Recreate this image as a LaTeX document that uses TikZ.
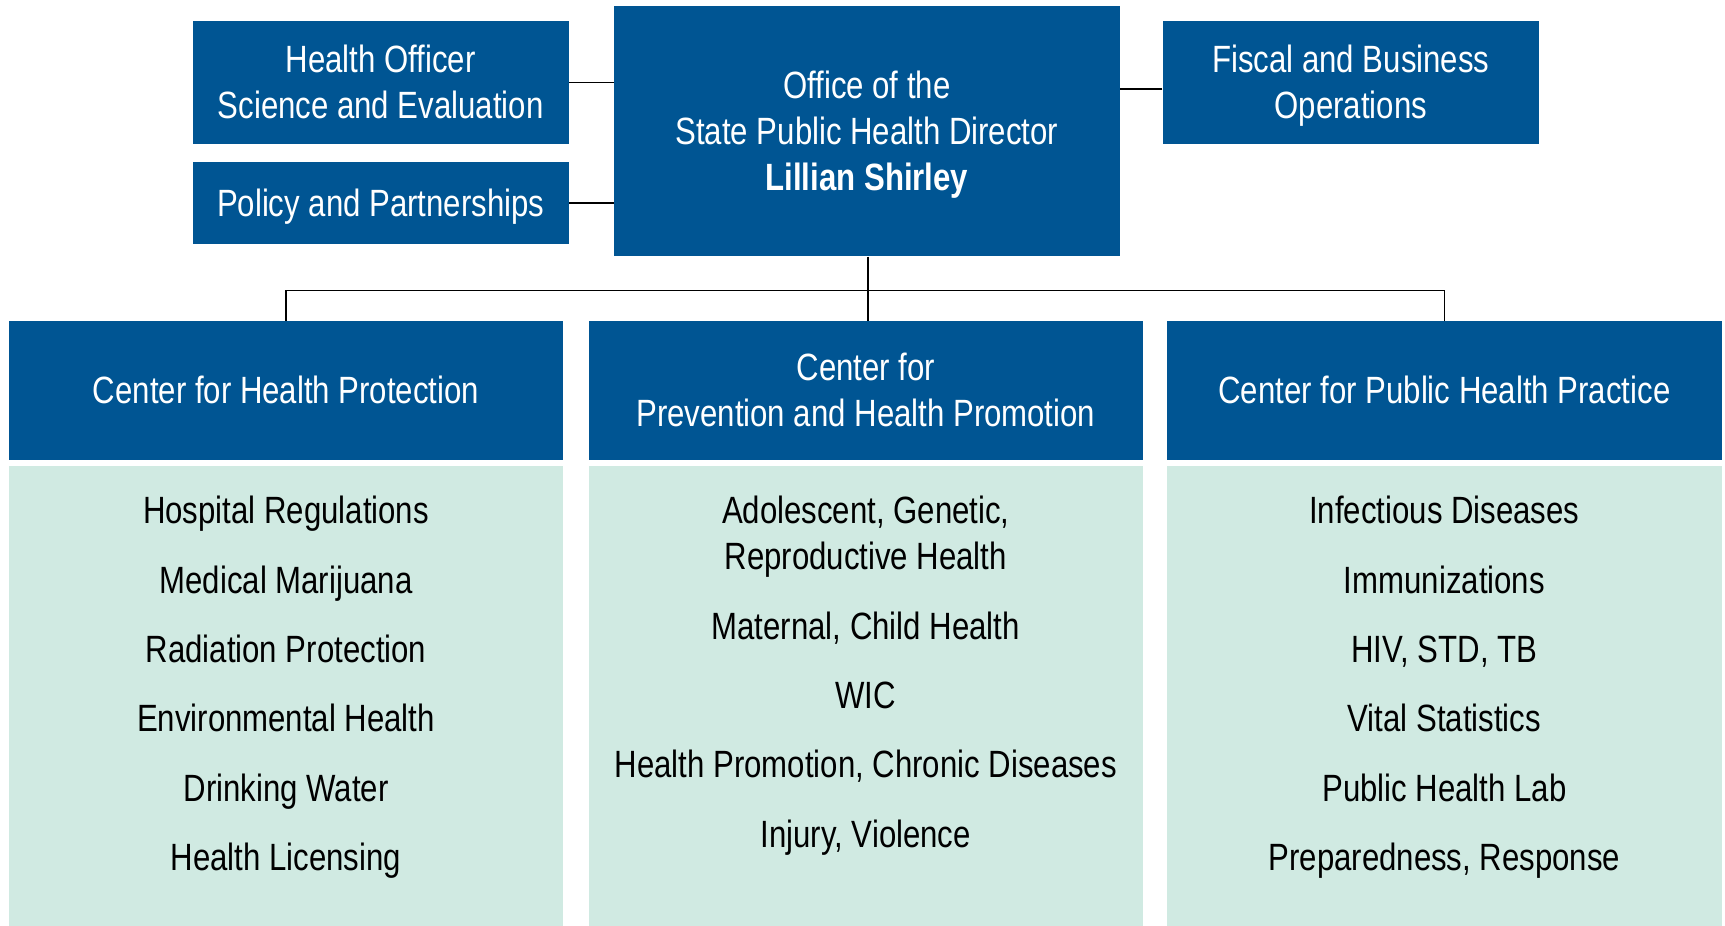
\documentclass[tikz,border=0pt]{standalone}
\usepackage{fontspec}
\setmainfont[FakeStretch=0.82]{Liberation Sans}
\definecolor{dblue}{RGB}{0,85,147}
\definecolor{lgreen}{RGB}{208,234,226}
\newcommand\ms{\rule[-4.7pt]{0pt}{22.7pt}}
\tikzset{
  bluebox/.style={fill=dblue, draw=none, text=white, align=center, inner sep=0pt,
    font=\fontsize{19}{23}\selectfont},
  greenbox/.style={fill=lgreen, draw=none, inner sep=0pt},
  item/.style={text=black, align=center, inner sep=0pt, font=\fontsize{19}{23}\selectfont},
  conn/.style={draw=black, line width=0.8pt}
}
\begin{document}
\begin{tikzpicture}[x=0.5pt,y=-0.5pt]
\useasboundingbox[fill=white] (0,0) rectangle (1725,926);
% top boxes
\node[bluebox, minimum width=188.2pt, minimum height=61.6pt] (ho) at (380.7,82.5) {\ms Health Officer\\\ms Science and Evaluation};
\node[bluebox, minimum width=188.2pt, minimum height=40.7pt] (pp) at (380.7,202.9) {\ms Policy and Partnerships};
\node[bluebox, minimum width=253pt, minimum height=125.4pt] (off) at (866.9,130.9) {\ms Office of the\\\ms State Public Health Director\\\ms\textbf{Lillian Shirley}};
\node[bluebox, minimum width=188.1pt, minimum height=61.6pt] (fis) at (1350.9,82.5) {\ms Fiscal and Business\\\ms Operations};
% centers
\node[bluebox, minimum width=277.3pt, minimum height=69.3pt] (c1) at (286,390.5) {\ms Center for Health Protection};
\node[bluebox, minimum width=277.3pt, minimum height=69.3pt] (c2) at (865.8,390.5) {\ms Center for\\\ms Prevention and Health Promotion};
\node[bluebox, minimum width=277.3pt, minimum height=69.3pt] (c3) at (1444.4,390.5) {\ms Center for Public Health Practice};
% light boxes
\node[greenbox, minimum width=277.3pt, minimum height=231pt] (l1) at (286,697) {};
\node[greenbox, minimum width=277.3pt, minimum height=231pt] (l2) at (865.8,697) {};
\node[greenbox, minimum width=277.3pt, minimum height=231pt] (l3) at (1444.4,697) {};
% items column 1
\node[item] (a1) at (286,510.4) {\ms Hospital Regulations};
\node[item] (a2) at (286,579.8) {\ms Medical Marijuana};
\node[item] (a3) at (286,649) {\ms Radiation Protection};
\node[item] (a4) at (286,718.4) {\ms Environmental Health};
\node[item] (a5) at (286,787.7) {\ms Drinking Water};
\node[item] (a6) at (286,857) {\ms Health Licensing};
% items column 2
\node[item] (b1) at (865.8,533.5) {\ms Adolescent, Genetic,\\\ms Reproductive Health};
\node[item] (b2) at (865.8,626) {\ms Maternal, Child Health};
\node[item] (b3) at (865.8,695.3) {\ms WIC};
\node[item] (b4) at (865.8,764.6) {\ms Health Promotion, Chronic Diseases};
\node[item] (b5) at (865.8,833.9) {\ms Injury, Violence};
% items column 3
\node[item] (d1) at (1444.4,510.4) {\ms Infectious Diseases};
\node[item] (d2) at (1444.4,579.8) {\ms Immunizations};
\node[item] (d3) at (1444.4,649) {\ms HIV, STD, TB};
\node[item] (d4) at (1444.4,718.4) {\ms Vital Statistics};
\node[item] (d5) at (1444.4,787.7) {\ms Public Health Lab};
\node[item] (d6) at (1444.4,857) {\ms Preparedness, Response};
% connectors
\draw[conn] (ho.east) -- (ho.east -| off.west);
\draw[conn] (pp.east) -- (pp.east -| off.west);
\coordinate (fj) at ([yshift=-3.25pt]fis.west);
\draw[conn] (fj) -- (fj -| off.east);
\coordinate (bus) at (868,290.4);
\draw[conn] (off.south -| bus) -- (bus);
\draw[conn] (c1.north) |- (bus);
\draw[conn] (bus) -- (c2.north -| bus);
\draw[conn] (c3.north) |- (bus);
\end{tikzpicture}
\end{document}
